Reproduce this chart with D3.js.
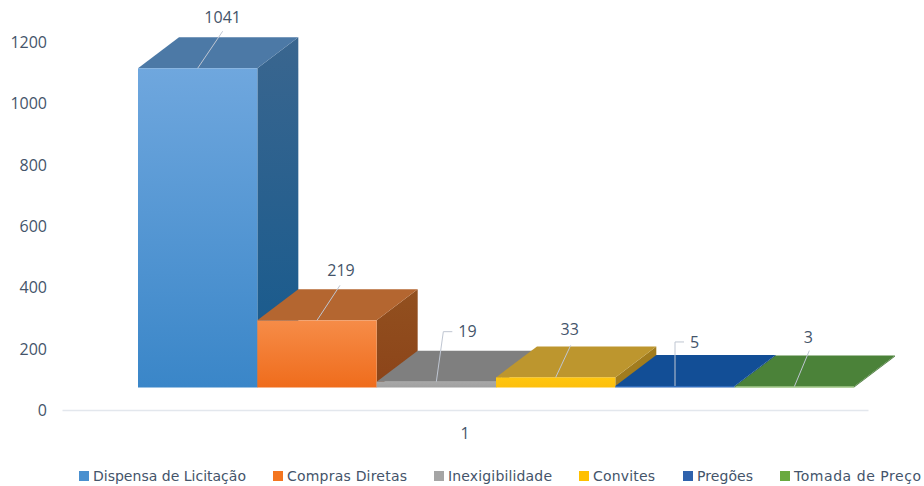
<!DOCTYPE html>
<html>
<head>
<meta charset="utf-8">
<script src="https://cdn.jsdelivr.net/npm/d3@7"></script>
<style>
  html, body { margin: 0; padding: 0; background: #fff; }
  svg { display: block; }
  text { font-family: "Open Sans", sans-serif; fill: #44546a; }
  .legend text { font-family: "DejaVu Sans", sans-serif; }
</style>
</head>
<body>
<svg id="chart" width="924" height="486"></svg>
<script>
const categories = ["1"];
const seriesNames = ["Dispensa de Licitação", "Compras Diretas", "Inexigibilidade", "Convites", "Pregões", "Tomada de Preço"];
const seriesValues = [1041, 219, 19, 33, 5, 3];
const yTicks = [0, 200, 400, 600, 800, 1000, 1200];

// front top, front bottom, side top, side bottom, top face
const faceColors = [
  ["#6fa7de", "#3a86c8", "#3a668f", "#14598d", "#4c79a6"],
  ["#f68c48", "#ef6c1c", "#92501f", "#8c4419", "#b46630"],
  ["#a8a8a8", "#a0a0a0", "#7a7a7a", "#7a7a7a", "#7f7f7f"],
  ["#ffc60f", "#fdbf0c", "#a17c1e", "#a17c1e", "#bd962e"],
  ["#3270c0", "#2c66b4", "#0f4585", "#0f4585", "#124e96"],
  ["#74b04c", "#6aa640", "#437535", "#437535", "#4b8239"]
];
const legendColors = ["#4a90cf", "#f4751f", "#a5a5a5", "#ffc000", "#2f62ac", "#6aa93f"];

// leader line bend and label anchor, relative to the middle of each bar's front top edge
const leaders = [
  { bend: [25, -37], label: [25, -51], anchor: "middle" },
  { bend: [23, -35], label: [24, -50], anchor: "middle" },
  { bend: [7, -50], end: [16, -50], label: [22, -50], anchor: "start" },
  { bend: [15, -32], label: [14, -48], anchor: "middle" },
  { bend: [0, -44], end: [9, -44], label: [15, -44], anchor: "start" },
  { bend: [15, -36], label: [14, -49], anchor: "middle" }
];
const legendX = [79, 273, 434, 579, 683, 780];
const legendTextWidth = [153, 120, 104, 62, 56, 127];

const DEPTH_X = 41, DEPTH_Y = 31, FLOOR_LIFT = 22.5;

const svg = d3.select("#chart");
const defs = svg.append("defs");

const y = d3.scaleLinear().domain([0, 1200]).range([410, 42]);
const xCategory = d3.scaleBand().domain(categories).range([62, 868]);
const x = d3.scaleBand().domain(seriesNames).range([138, 854]);

// axes
const yAxis = svg.append("g")
  .attr("transform", "translate(55,0.5)")
  .call(d3.axisLeft(y).tickValues(yTicks).tickFormat(d3.format("d")).tickSize(0).tickPadding(8));
yAxis.select(".domain").remove();
yAxis.selectAll("text").style("font-size", "16px");

const xAxis = svg.append("g")
  .attr("transform", `translate(0,${y(0)})`)
  .call(d3.axisBottom(xCategory).tickSize(0).tickPadding(18));
xAxis.select(".domain").attr("stroke", "#e3e7ed").attr("stroke-width", 1.5);
xAxis.selectAll("text").style("font-size", "16px");

function addGradient(id, top, bottom) {
  const g = defs.append("linearGradient").attr("id", id).attr("x1", 0).attr("x2", 0).attr("y1", 0).attr("y2", 1);
  g.append("stop").attr("offset", "0%").attr("stop-color", top);
  g.append("stop").attr("offset", "100%").attr("stop-color", bottom);
}

// bars, left to right so later tops paint over earlier ones
const bars = svg.append("g").selectAll("g")
  .data(seriesNames)
  .join("g");

bars.each(function(name, i) {
  const g = d3.select(this);
  const c = faceColors[i];
  const x0 = x(name), x1 = x0 + x.bandwidth();
  const base = y(0) - FLOOR_LIFT;
  const top = y(seriesValues[i]) - FLOOR_LIFT;
  addGradient(`front${i}`, c[0], c[1]);
  addGradient(`side${i}`, c[2], c[3]);

  g.append("path")
    .attr("fill", `url(#side${i})`)
    .attr("d", d3.line()([[x1, top], [x1 + DEPTH_X, top - DEPTH_Y], [x1 + DEPTH_X, base - DEPTH_Y], [x1, base]]));
  g.append("path")
    .attr("fill", c[4])
    .attr("d", d3.line()([[x0, top], [x0 + DEPTH_X, top - DEPTH_Y], [x1 + DEPTH_X, top - DEPTH_Y], [x1, top]]));
  g.append("rect")
    .attr("x", x0).attr("y", top)
    .attr("width", x.bandwidth()).attr("height", base - top)
    .attr("fill", `url(#front${i})`);
});

// leader lines and value labels drawn after all bars
const labels = svg.append("g").selectAll("g")
  .data(seriesNames)
  .join("g")
  .attr("transform", (d, i) => `translate(${x(d) + x.bandwidth() / 2},${y(seriesValues[i]) - FLOOR_LIFT})`);

labels.append("path")
  .attr("fill", "none")
  .attr("stroke", "#bfc6d2")
  .attr("stroke-width", 1)
  .attr("d", (d, i) => {
    const l = leaders[i];
    return d3.line()(l.end ? [[0, 0], l.bend, l.end] : [[0, 0], l.bend]);
  });

labels.append("text")
  .attr("x", (d, i) => leaders[i].label[0])
  .attr("y", (d, i) => leaders[i].label[1])
  .attr("dy", "0.35em")
  .attr("text-anchor", (d, i) => leaders[i].anchor)
  .style("font-size", "16px")
  .text((d, i) => seriesValues[i]);

// legend
const legend = svg.append("g").attr("class", "legend").selectAll("g")
  .data(seriesNames)
  .join("g")
  .attr("transform", (d, i) => `translate(${legendX[i]},476)`);

legend.append("rect")
  .attr("y", -5).attr("width", 10).attr("height", 10)
  .attr("fill", (d, i) => legendColors[i]);

legend.append("text")
  .attr("x", 14)
  .attr("dy", "0.35em")
  .attr("textLength", (d, i) => legendTextWidth[i])
  .style("font-size", "14px")
  .text(d => d);
</script>
</body>
</html>
